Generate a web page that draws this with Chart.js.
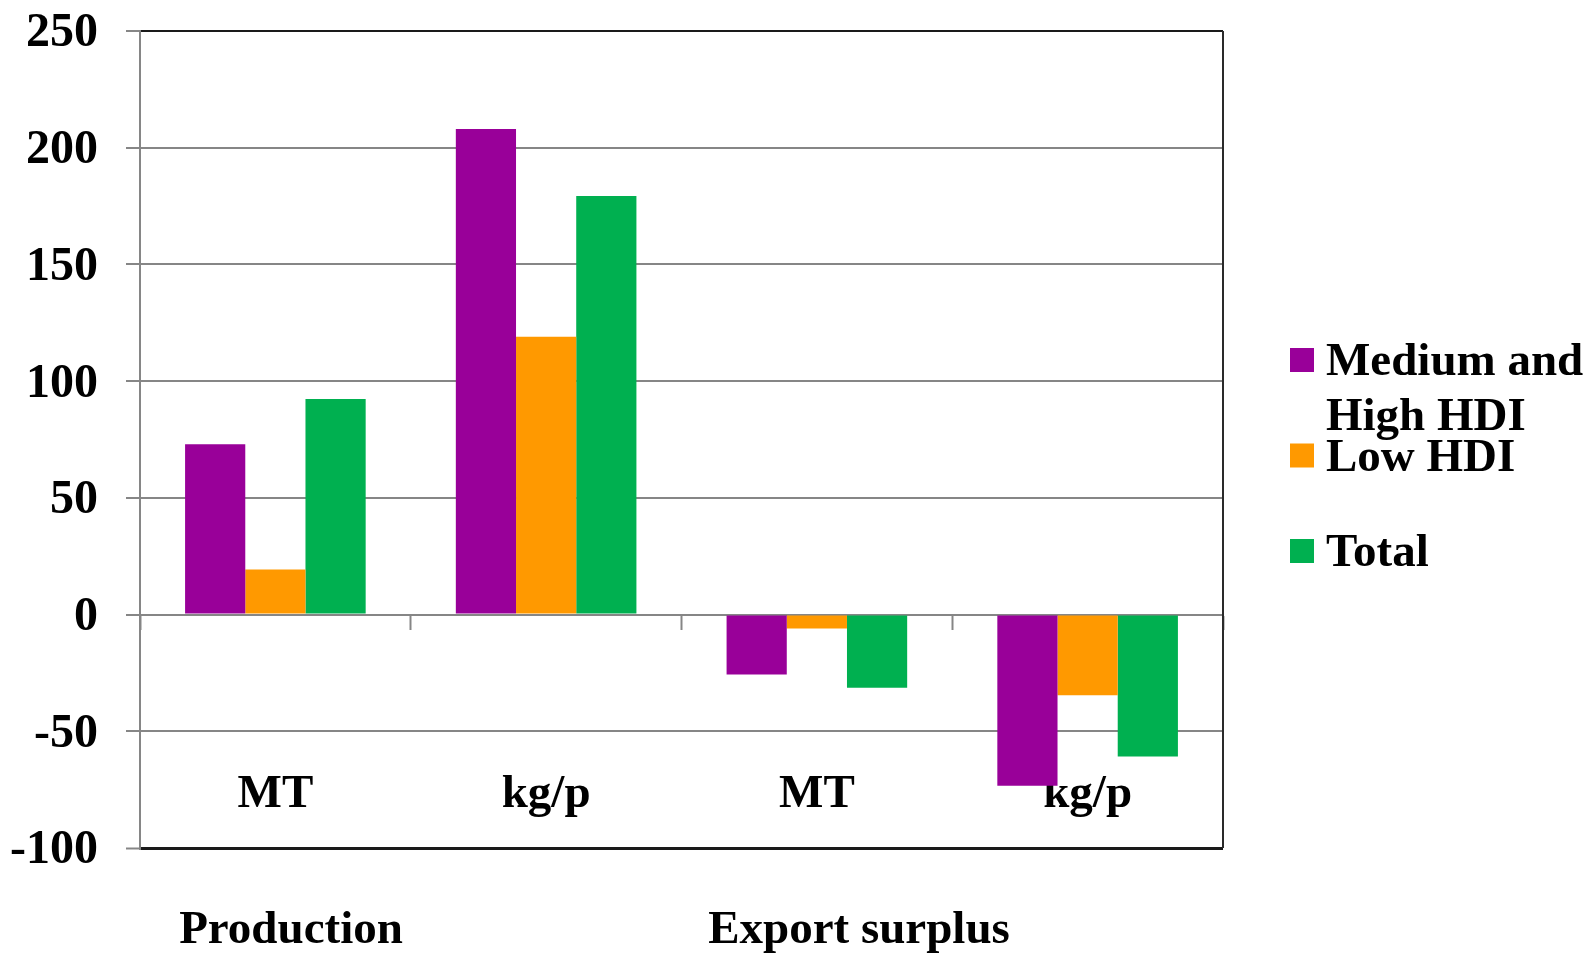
<!DOCTYPE html>
<html>
<head>
<meta charset="utf-8">
<script src="https://cdn.jsdelivr.net/npm/chart.js@4/dist/chart.umd.min.js"></script>
<style>
  html, body { margin: 0; padding: 0; background: #ffffff; }
  #wrap { width: 1591px; height: 955px; }
</style>
</head>
<body>
<div id="wrap"><canvas id="c" width="1591" height="955"></canvas></div>
<script>
// Categories (units) along the x axis, grouped under two headings
const categories = ['MT', 'kg/p', 'MT', 'kg/p'];
const groupLabels = ['Production', 'Export surplus'];

// Series
const seriesNames = [['Medium and', 'High HDI'], ['Low HDI'], ['Total']];
const mediumHighHDI = [73, 208, -25.7, -73.3];
const lowHDI = [19.3, 119, -6, -34.6];
const total = [92.3, 179.3, -31.4, -60.8];

// Value axis ticks
const yTicks = [-100, -50, 0, 50, 100, 150, 200, 250];

const seriesColors = ['#990099', '#FF9900', '#00B050'];
const FONT = '"Liberation Serif", "Times New Roman", serif';
const GRID = '#868686';

Chart.defaults.font.family = FONT;
Chart.defaults.font.weight = 'bold';
Chart.defaults.font.size = 47;
Chart.defaults.color = '#000000';

// Tick labels may overhang the plot area; keep the plot area fixed by the layout padding
const noOverhang = (scale) => {
  scale.paddingTop = 0;
  scale.paddingBottom = 0;
  scale.paddingLeft = 0;
  scale.paddingRight = 0;
};

// Legend at the right, labels may wrap over two lines
const sideLegend = {
  id: 'sideLegend',
  afterDraw(chart, args, opts) {
    const ctx = chart.ctx;
    ctx.save();
    ctx.font = 'bold 47px ' + FONT;
    ctx.textBaseline = 'alphabetic';
    ctx.textAlign = 'left';
    chart.data.datasets.forEach((ds, i) => {
      const top = opts.top + i * opts.itemGap;
      ctx.fillStyle = ds.backgroundColor;
      ctx.fillRect(opts.x, top, opts.box, opts.box);
      ctx.fillStyle = '#000000';
      seriesNames[i].forEach((line, j) => {
        ctx.fillText(line, opts.textX, top + opts.baseline + j * opts.lineGap);
      });
    });
    ctx.restore();
  }
};

// Group headings under the category labels, and the right edge of the frame
const groupsAndFrame = {
  id: 'groupsAndFrame',
  afterDraw(chart, args, opts) {
    const ctx = chart.ctx;
    const area = chart.chartArea;
    ctx.save();
    ctx.strokeStyle = '#2a2a2a';
    ctx.lineWidth = 2;
    ctx.beginPath();
    ctx.moveTo(area.right, area.top);
    ctx.lineTo(area.right, area.bottom);
    ctx.stroke();

    ctx.font = 'bold 47px ' + FONT;
    ctx.fillStyle = '#000000';
    ctx.textAlign = 'center';
    ctx.textBaseline = 'alphabetic';
    groupLabels.forEach((t, i) => {
      ctx.fillText(t, opts.centers[i], opts.baseline);
    });
    ctx.restore();
  }
};

new Chart(document.getElementById('c'), {
  type: 'bar',
  data: {
    labels: categories,
    datasets: [
      { label: seriesNames[0].join(' '), data: mediumHighHDI, backgroundColor: seriesColors[0] },
      { label: seriesNames[1].join(' '), data: lowHDI, backgroundColor: seriesColors[1] },
      { label: seriesNames[2].join(' '), data: total, backgroundColor: seriesColors[2] }
    ]
  },
  options: {
    responsive: false,
    animation: false,
    devicePixelRatio: 1,
    layout: { padding: { left: 0, right: 368, top: 31, bottom: 107 } },
    datasets: {
      bar: { categoryPercentage: 0.667, barPercentage: 1.0, borderWidth: 0 }
    },
    scales: {
      x: {
        position: { y: 0 },
        afterFit: noOverhang,
        grid: {
          offset: true,
          drawOnChartArea: false,
          drawTicks: true,
          tickLength: 14,
          tickWidth: 2,
          tickColor: GRID,
          color: GRID
        },
        border: { display: true, color: GRID, width: 2 },
        ticks: { padding: 138, maxRotation: 0, font: { size: 47, weight: 'bold', family: FONT } }
      },
      y: {
        min: -100,
        max: 250,
        afterBuildTicks: (scale) => { scale.ticks = yTicks.map(v => ({ value: v })); },
        afterFit: (scale) => { scale.width = 140; noOverhang(scale); },
        grid: {
          color: (c) => (c.tick && (c.tick.value === 250 || c.tick.value === -100)) ? '#1a1a1a' : GRID,
          lineWidth: (c) => (c.tick && c.tick.value === -100) ? 3 : 2,
          tickLength: 14,
          tickColor: GRID,
          tickWidth: 2
        },
        border: { display: true, color: GRID, width: 2 },
        ticks: { padding: 28, labelOffset: 3, font: { size: 48, weight: 'bold', family: FONT } }
      }
    },
    plugins: {
      legend: { display: false },
      tooltip: { enabled: false },
      sideLegend: { x: 1290, textX: 1326, box: 24, top: 348, itemGap: 95.5, baseline: 27, lineGap: 55 },
      groupsAndFrame: { centers: [291, 859], baseline: 943 }
    }
  },
  plugins: [sideLegend, groupsAndFrame]
});
</script>
</body>
</html>
